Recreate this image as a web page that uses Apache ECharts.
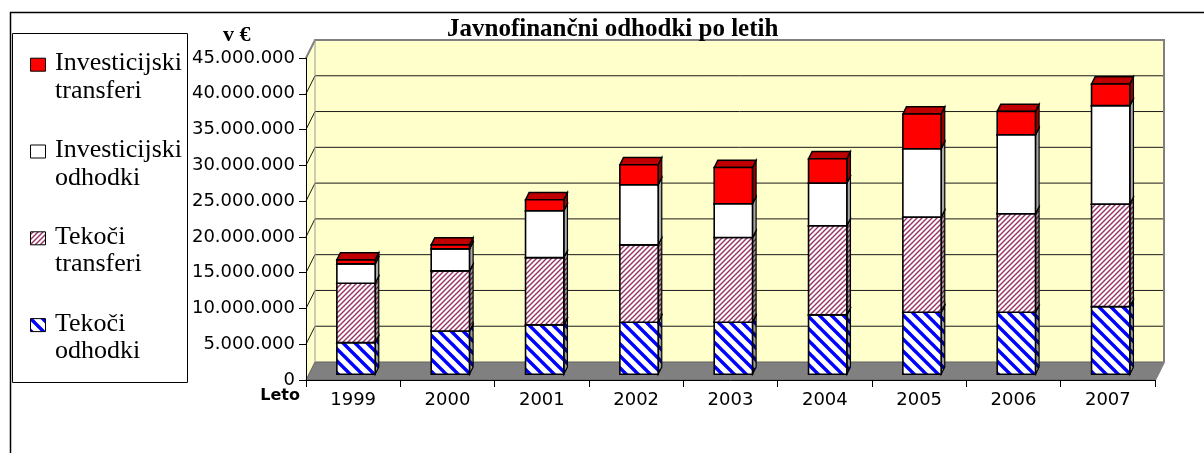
<!DOCTYPE html>
<html>
<head>
<meta charset="utf-8">
<script src="https://cdn.jsdelivr.net/npm/echarts@6/dist/echarts.min.js"></script>
<style>
html,body{margin:0;padding:0;background:#fff;}
#chart{width:1204px;height:453px;}
</style>
</head>
<body>
<div id="chart"></div>
<script>
// ---- data ----
const years = ['1999','2000','2001','2002','2003','2004','2005','2006','2007'];
const seriesNames = ['Tekoči odhodki','Tekoči transferi','Investicijski odhodki','Investicijski transferi'];
const tekociOdhodki        = [4420000, 6060000, 6900000, 7270000, 7270000, 8300000, 8670000, 8670000, 9460000];
const tekociTransferi      = [8310000, 8390000, 9410000, 10820000, 11840000, 12450000, 13290000, 13760000, 14320000];
const investicijskiOdhodki = [2700000, 3080000, 6540000, 8390000, 4720000, 5970000, 9560000, 11050000, 13760000];
const investicijskiTransferi = [560000, 560000, 1540000, 2800000, 5070000, 3400000, 4850000, 3260000, 3030000];
const yTickValues = [0, 5000000, 10000000, 15000000, 20000000, 25000000, 30000000, 35000000, 40000000, 45000000];
const titleText = 'Javnofinančni odhodki po letih';
const yUnitText = 'v €';
const xNameText = 'Leto';

// ---- styling constants ----
const DX = 9, DY = -18;       // depth of the 3D box
const F0 = 0.317;             // front of bars within depth
const BD = 0.4;               // bar depth fraction
const BAR_RATIO = 0.406;

function stripeCanvas(size, color, lw, dir, bg) {
  const c = document.createElement('canvas');
  c.width = c.height = size;
  const ctx = c.getContext('2d');
  ctx.fillStyle = bg; ctx.fillRect(0, 0, size, size);
  ctx.strokeStyle = color; ctx.lineWidth = lw;
  for (let k = -1; k <= 1; k++) {
    ctx.beginPath();
    if (dir === 'back') { ctx.moveTo(-1, k * size - 1); ctx.lineTo(size + 1, (k + 1) * size + 1); }
    else { ctx.moveTo(-1, (k + 1) * size + 1); ctx.lineTo(size + 1, k * size - 1); }
    ctx.stroke();
  }
  return c;
}
const pat = (c) => ({ image: c, repeat: 'repeat' });
const bluePat = pat(stripeCanvas(12, '#0000FF', 3.4, 'back', '#FFFFFF'));
const blueSide = pat(stripeCanvas(12, '#00008C', 3.4, 'back', '#9A9A9A'));
const pinkPat = pat(stripeCanvas(5, '#993366', 1.45, 'fwd', '#FFFFFF'));
const pinkSide = pat(stripeCanvas(5, '#5E1F3F', 1.45, 'fwd', '#9A9A9A'));

const segStyles = [
  { front: bluePat, side: blueSide, top: blueSide },
  { front: pinkPat, side: pinkSide, top: pinkSide },
  { front: '#FFFFFF', side: '#A8A8A8', top: '#C8C8C8' },
  { front: '#FF0000', side: '#990000', top: '#C00000' }
];
const seriesValues = [tekociOdhodki, tekociTransferi, investicijskiOdhodki, investicijskiTransferi];

// stacked ranges
const stacks = seriesValues.map(() => []);
years.forEach((y, i) => {
  let base = 0;
  seriesValues.forEach((arr, s) => {
    stacks[s].push([i, base, base + arr[i]]);
    base += arr[i];
  });
});

function barRenderer(s) {
  const st = segStyles[s];
  return function (params, api) {
    const i = api.value(0), lo = api.value(1), hi = api.value(2);
    const pLo = api.coord([i, lo]);
    const pHi = api.coord([i, hi]);
    const band = api.size([1, 0])[0];
    const w = band * BAR_RATIO;
    const x = pLo[0] + F0 * DX - w / 2;
    const yb = pLo[1] + F0 * DY, yt = pHi[1] + F0 * DY;
    const bx = BD * DX, by = BD * DY;
    return {
      type: 'group',
      children: [
        { type: 'polygon', shape: { points: [[x + w, yb], [x + w + bx, yb + by], [x + w + bx, yt + by], [x + w, yt]] },
          style: { fill: st.side, stroke: '#000', lineWidth: 1.2 } },
        { type: 'polygon', shape: { points: [[x, yt], [x + bx, yt + by], [x + w + bx, yt + by], [x + w, yt]] },
          style: { fill: st.top, stroke: '#000', lineWidth: 1.5 } },
        { type: 'rect', shape: { x: x, y: yt, width: w, height: yb - yt },
          style: { fill: st.front, stroke: '#000', lineWidth: 1.6 } }
      ]
    };
  };
}

const yMin = yTickValues[0], yMax = yTickValues[yTickValues.length - 1];

function wallRenderer(params, api) {
  const cs = params.coordSys;
  const x0 = cs.x, x1 = cs.x + cs.width;
  const y0 = api.coord([0, yMin])[1], yT = api.coord([0, yMax])[1];
  const ch = [];
  ch.push({ type: 'polygon', shape: { points: [[x0, y0], [x0, yT], [x0 + DX, yT + DY], [x0 + DX, y0 + DY]] },
    style: { fill: '#FFFFCC', stroke: null } });
  ch.push({ type: 'rect', shape: { x: x0 + DX, y: yT + DY, width: x1 - x0, height: y0 - yT },
    style: { fill: '#FFFFCC', stroke: null } });
  yTickValues.forEach(v => {
    if (v === yMin || v === yMax) return;
    const y = api.coord([0, v])[1];
    ch.push({ type: 'polyline', shape: { points: [[x0, y], [x0 + DX, y + DY], [x1 + DX, y + DY]] },
      style: { fill: null, stroke: '#1a1a1a', lineWidth: 1 } });
  });
  ch.push({ type: 'polygon', shape: { points: [[x0, y0], [x1, y0], [x1 + DX, y0 + DY], [x0 + DX, y0 + DY]] },
    style: { fill: '#808080', stroke: '#606060', lineWidth: 1 } });
  // wall borders
  ch.push({ type: 'polyline', shape: { points: [[x0, yT], [x0 + DX, yT + DY], [x1 + DX, yT + DY], [x1 + DX, y0 + DY], [x1, y0]] },
    style: { fill: null, stroke: '#808080', lineWidth: 2 } });
  ch.push({ type: 'line', shape: { x1: x0 + DX, y1: yT + DY, x2: x0 + DX, y2: y0 + DY },
    style: { stroke: '#9a9a9a', lineWidth: 1 } });
  return { type: 'group', children: ch };
}

const fmt = v => String(v).replace(/\B(?=(\d{3})+(?!\d))/g, '.');

// legend (graphic), top to bottom
const legendOrder = [3, 2, 1, 0];
const legendGraphics = [{
  type: 'rect', shape: { x: 12.5, y: 33.5, width: 175, height: 349 },
  style: { fill: '#fff', stroke: '#000', lineWidth: 1 }, z: 10
}];
legendOrder.forEach((s, k) => {
  const base = 71.7 + k * 86.8;
  legendGraphics.push({
    type: 'rect', shape: { x: 30.5, y: base - 13.5, width: 15, height: 13 },
    style: { fill: segStyles[s].front, stroke: '#000', lineWidth: 1 }, z: 11
  });
  legendGraphics.push({
    type: 'text', x: 55, y: base - 22, z: 11,
    style: { text: seriesNames[s].replace(' ', '\n'), fill: '#000',
      font: '26px "Liberation Serif"', lineHeight: 27.5, verticalAlign: 'top', align: 'left' }
  });
});

const chart = echarts.init(document.getElementById('chart'), null, { renderer: 'canvas' });
chart.setOption({
  animation: false,
  backgroundColor: '#fff',
  title: {
    text: titleText, left: 447, top: 17, padding: 0,
    textStyle: { fontFamily: 'Liberation Serif', fontWeight: 'bold', fontSize: 25, color: '#000' }
  },
  grid: { left: 306, right: 49, top: 58, bottom: 73, containLabel: false, outerBoundsMode: 'none' },
  xAxis: {
    type: 'category', data: years, z: 5,
    axisLine: { show: true, lineStyle: { color: '#000', width: 1 } },
    axisTick: { show: true, length: 7, lineStyle: { color: '#000' } },
    axisLabel: { margin: 11, color: '#000', fontFamily: 'DejaVu Sans', fontSize: 18 },
    splitLine: { show: false }
  },
  yAxis: {
    type: 'value', min: yMin, max: yMax, interval: yTickValues[1] - yTickValues[0], z: 5,
    axisLine: { show: true, lineStyle: { color: '#000', width: 1 } },
    axisTick: { show: true, length: 7, lineStyle: { color: '#000' } },
    axisLabel: { margin: 11, color: '#000', fontFamily: 'DejaVu Sans', fontSize: 18, formatter: fmt },
    splitLine: { show: false }
  },
  graphic: [
    { type: 'rect', shape: { x: 10.5, y: 12.5, width: 1210, height: 460 },
      style: { fill: null, stroke: '#000', lineWidth: 1.5 }, z: 9, silent: true },
    { type: 'text', x: 223, y: 35, z: 11,
      style: { text: yUnitText, fill: '#000', font: 'bold 22px "Liberation Serif"', verticalAlign: 'middle' } },
    { type: 'text', x: 300, y: 396, z: 11,
      style: { text: xNameText, fill: '#000', font: 'bold 16px "DejaVu Sans"', align: 'right', verticalAlign: 'middle' } }
  ].concat(legendGraphics),
  series: [
    { type: 'custom', name: 'wall', data: [[0, 0]], renderItem: wallRenderer, z: 1, silent: true, clip: false }
  ].concat(seriesNames.map((n, s) => ({
    type: 'custom', name: n, data: stacks[s], renderItem: barRenderer(s), z: 2 + s, clip: false,
    encode: { x: 0, y: [1, 2] }
  })))
});
</script>
</body>
</html>
